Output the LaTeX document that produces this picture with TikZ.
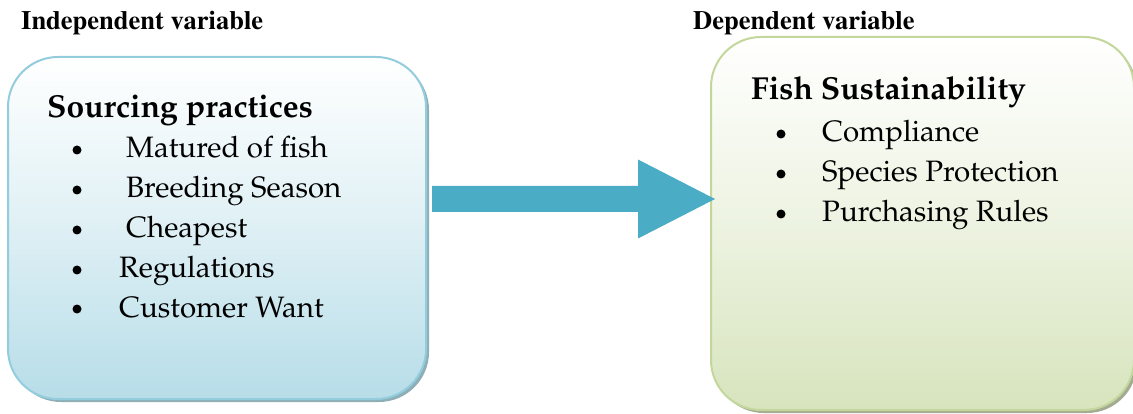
\documentclass[tikz,border=0pt]{standalone}
\usepackage[T1]{fontenc}
\usetikzlibrary{shadows,calc}
\newcommand{\palafont}[1]{\fontfamily{ppl}\fontsize{#1}{#1}\selectfont}
\newcommand{\timesfont}{\fontfamily{ptm}\bfseries\fontsize{26.5}{26.5}\selectfont}
\definecolor{bluefill}{HTML}{B7DDE8}
\definecolor{blueline}{HTML}{93CDDD}
\definecolor{blueshadow}{HTML}{8FAFB7}
\definecolor{greenfill}{HTML}{D7E4BD}
\definecolor{greenline}{HTML}{C3D69B}
\definecolor{greenshadow}{HTML}{A3AB93}
\definecolor{arrowblue}{HTML}{4BACC6}
\tikzset{
  varbox/.style={draw, line width=2pt, rounded corners=50pt, inner sep=0pt},
  heading/.style={anchor=base west, inner sep=0pt, font=\timesfont},
  boxtitle/.style={anchor=base west, inner sep=0pt, font=\palafont{31.8}\bfseries},
  itemtext/.style={anchor=base west, inner sep=0pt, font=\palafont{29.5}},
  dot/.style={circle, fill=black, inner sep=0pt, minimum size=9pt},
}
\begin{document}
\begin{tikzpicture}[x=1pt,y=-1pt]
\useasboundingbox (0,0) rectangle (1133,414);

% variable headings
\node[heading] (indep) at (21,29.5) {Independent variable};
\node[heading] (dep) at (693,29.5) {Dependent variable};

% the two boxes
\node[varbox, draw=blueline, minimum width=418pt, minimum height=342pt,
      top color=white, bottom color=bluefill, middle color=bluefill!45,
      drop shadow={fill=blueshadow, opacity=1, shadow xshift=3pt, shadow yshift=-3pt}]
      (src) at (217,228) {};
\node[varbox, draw=greenline, minimum width=423pt, minimum height=373pt,
      top color=white, bottom color=greenfill, middle color=greenfill!45,
      drop shadow={fill=greenshadow, opacity=1, shadow xshift=3pt, shadow yshift=-3pt}]
      (dst) at (922.5,223.5) {};

% block arrow from the left box to the right box
\fill[arrowblue]
  ($(src.east)+(5,-42)$) -- ($(src.east)+(211,-42)$) -- ($(src.east)+(211,-68.5)$)
  -- ($(dst.west)+(5,-24.5)$)
  -- ($(src.east)+(211,10.5)$) -- ($(src.east)+(211,-16)$) -- ($(src.east)+(5,-16)$) -- cycle;

% left box contents
\node[boxtitle] (srct) at (47,118) {Sourcing practices};
\node[dot] (b1) at (77,150) {};
\node[dot] (b2) at (77,190) {};
\node[dot] (b3) at (77,230) {};
\node[dot] (b4) at (77,270) {};
\node[dot] (b5) at (77,309) {};
\node[itemtext] (i1) at (126,158) {Matured of fish};
\node[itemtext] (i2) at (126,198) {Breeding Season};
\node[itemtext] (i3) at (126,238) {Cheapest};
\node[itemtext] (i4) at (119,278) {Regulations};
\node[itemtext] (i5) at (119,317) {Customer Want};

% right box contents
\node[boxtitle] (dstt) at (751,100) {Fish Sustainability};
\node[dot] (c1) at (781,134) {};
\node[dot] (c2) at (781,174) {};
\node[dot] (c3) at (781,214) {};
\node[itemtext] (j1) at (822,142) {Compliance};
\node[itemtext] (j2) at (822,182) {Species Protection};
\node[itemtext] (j3) at (822,222) {Purchasing Rules};
\end{tikzpicture}
\end{document}
